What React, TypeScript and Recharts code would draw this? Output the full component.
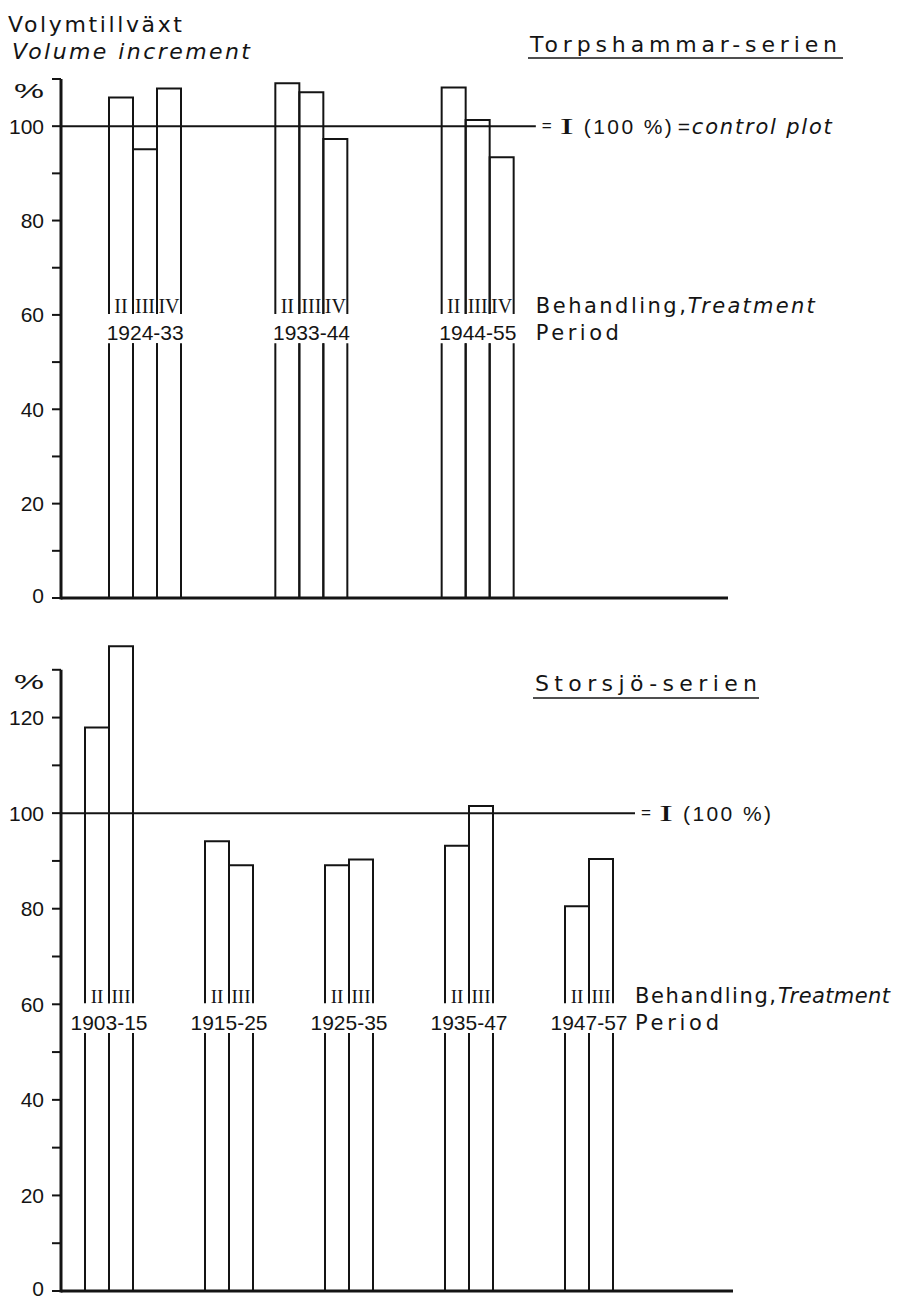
import React from 'react';
import { BarChart, Bar, XAxis, YAxis, ReferenceLine, ReferenceDot } from 'recharts';

const FONT = '"Liberation Sans", Arial, sans-serif';
const WORD_FONT = '"DejaVu Sans", "Liberation Sans", sans-serif';
const SERIF = '"Liberation Serif", "Times New Roman", serif';
const INK = '#141414';

// Torpshammar-serien (treatments II-IV, % of control plot I)
const torpPeriods = ['1924-33', '1933-44', '1944-55'];
const torpTreatments = ['II', 'III', 'IV'];
const torpII = [106.1, 109.1, 108.2];
const torpIII = [95.1, 107.2, 101.3];
const torpIV = [108.0, 97.3, 93.4];
const torpTicks = [0, 10, 20, 30, 40, 50, 60, 70, 80, 90, 100, 110];

// Storsjö-serien (treatments II-III)
const storPeriods = ['1903-15', '1915-25', '1925-35', '1935-47', '1947-57'];
const storTreatments = ['II', 'III'];
const storII = [117.9, 94.1, 89.1, 93.2, 80.5];
const storIII = [134.9, 89.1, 90.3, 101.5, 90.4];
const storTicks = [0, 10, 20, 30, 40, 50, 60, 70, 80, 90, 100, 110, 120, 130];

const BAR = 24;
// the bar outlines break where the period label sits
const GAP_TOP = 60.2;
const GAP_BOTTOM = 54;
const NUMERAL_VALUE = 60.3;
const PERIOD_VALUE = 54.6;

type Margin = { top: number; right: number; bottom: number; left: number };

interface PanelProps {
  periods: string[];
  treatments: string[];
  series: number[][];
  ticks: number[];
  domainMax: number;
  width: number;
  height: number;
  margin: Margin;
  yWidth: number;
  xHeight: number;
  padding: { left: number; right: number };
  numeralSize: number;
  controlPlot: boolean;
  text: { behandling: number; treatment: number; period: number };
}

const makeBarShape = (key: string, numeralSize: number) => (props: any) => {
  const { x, y, width, height, payload } = props;
  const v = Number(payload?.[key]);
  if (!v || !height) return <g />;
  const base = y + height;
  const ppu = height / v;
  const at = (val: number) => base - val * ppu;
  const gTop = at(GAP_TOP);
  const gBot = at(GAP_BOTTOM);
  const d = `M${x},${gTop} V${y} H${x + width} V${gTop} M${x},${gBot} V${base} M${x + width},${gBot} V${base}`;
  return (
    <g>
      <path d={d} fill="none" stroke={INK} strokeWidth={2} />
      <text
        x={x + width / 2}
        y={at(NUMERAL_VALUE)}
        textAnchor="middle"
        fontFamily={SERIF}
        fontSize={numeralSize}
        fill={INK}
      >
        {key}
      </text>
    </g>
  );
};

function Panel(p: PanelProps) {
  const plotLeft = p.margin.left + p.yWidth;
  const plotH = p.height - p.margin.top - p.margin.bottom - p.xHeight;
  const ppu = plotH / p.domainMax;
  const topTick = p.ticks[p.ticks.length - 1];
  const half = (p.treatments.length * BAR) / 2;
  const first = p.periods[0];
  const last = p.periods[p.periods.length - 1];

  const data = p.periods.map((period, i) => {
    const row: Record<string, string | number> = { period };
    p.treatments.forEach((t, j) => {
      row[t] = p.series[j][i];
    });
    return row;
  });

  const yTick = (props: any) => {
    const { y, payload } = props;
    const v = payload.value as number;
    const label = v === topTick ? '%' : v % 20 === 0 ? String(v) : null;
    return (
      <g>
        {v === 0 && (
          <line x1={plotLeft} x2={plotLeft} y1={y + 1.5} y2={y - topTick * ppu} stroke={INK} strokeWidth={3} />
        )}
        <line x1={plotLeft - 9} x2={plotLeft} y1={y} y2={y} stroke={INK} strokeWidth={2} />
        {label === '%' && (
          <text x={plotLeft - 17} y={y + 19} textAnchor="end" fontFamily={FONT} fontSize={20} fill={INK}
            textLength={30} lengthAdjust="spacingAndGlyphs">%</text>
        )}
        {label && label !== '%' && (
          <text x={plotLeft - 17} y={y + (v === 0 ? 5 : 7.5)} textAnchor="end" fontFamily={FONT} fontSize={21} fill={INK}>
            {label}
          </text>
        )}
      </g>
    );
  };

  const controlShape = (props: any) => {
    const { y1, x2 } = props;
    const xe = x2 + half + 22;
    const base = y1 + 8;
    return (
      <g>
        <line x1={plotLeft} x2={xe} y1={y1} y2={y1} stroke={INK} strokeWidth={2} />
        <text x={xe + 6} y={y1 + 5} fontFamily={FONT} fontSize={15} fill={INK} textLength={10} lengthAdjust="spacingAndGlyphs">=</text>
        <text x={xe + 24} y={base} fontFamily={SERIF} fontSize={24} fill={INK} textLength={14} lengthAdjust="spacingAndGlyphs">I</text>
        <text x={xe + 48} y={base} fontFamily={FONT} fontSize={21} fill={INK} textLength={88} lengthAdjust="spacing">(100 %)</text>
        {p.controlPlot && (
          <>
            <text x={xe + 142} y={base} fontFamily={FONT} fontSize={21} fill={INK}>=</text>
            <text x={xe + 156} y={base} fontFamily={WORD_FONT} fontStyle="italic" fontSize={21} fill={INK}
              textLength={140} lengthAdjust="spacing">control plot</text>
          </>
        )}
      </g>
    );
  };

  return (
    <BarChart width={p.width} height={p.height} data={data} margin={p.margin} barGap={0}>
      <XAxis
        dataKey="period"
        tick={false}
        tickLine={false}
        height={p.xHeight}
        padding={p.padding}
        axisLine={{ stroke: INK, strokeWidth: 3 }}
      />
      <YAxis
        type="number"
        domain={[0, p.domainMax]}
        ticks={p.ticks}
        interval={0}
        width={p.yWidth}
        axisLine={false}
        tickLine={false}
        tick={yTick}
      />
      <ReferenceLine
        segment={[{ x: first, y: 100 }, { x: last, y: 100 }]}
        shape={controlShape}
      />
      {p.treatments.map((t) => (
        <Bar
          key={t}
          dataKey={t}
          barSize={BAR}
          fill="none"
          isAnimationActive={false}
          shape={makeBarShape(t, p.numeralSize)}
        />
      ))}
      {p.periods.map((period) => (
        <ReferenceDot
          key={period}
          x={period}
          y={PERIOD_VALUE}
          r={0}
          fill="none"
          stroke="none"
          label={{
            content: (lp: any) => {
              const vb = lp.viewBox || {};
              return (
                <text x={vb.x} y={vb.y} textAnchor="middle" fontFamily={FONT} fontSize={21} fill={INK}>
                  {period}
                </text>
              );
            },
          }}
        />
      ))}
      <ReferenceDot
        x={last}
        y={NUMERAL_VALUE}
        r={0}
        fill="none"
        stroke="none"
        label={{
          content: (lp: any) => {
            const vb = lp.viewBox || {};
            const x0 = vb.x + half + 22;
            return (
              <g>
                <text x={x0} y={vb.y} fontFamily={WORD_FONT} fontSize={21} fill={INK}
                  textLength={p.text.behandling} lengthAdjust="spacing">Behandling,</text>
                <text x={x0 + p.text.behandling + 2} y={vb.y} fontFamily={WORD_FONT} fontStyle="italic" fontSize={21} fill={INK}
                  textLength={p.text.treatment} lengthAdjust="spacing">Treatment</text>
              </g>
            );
          },
        }}
      />
      <ReferenceDot
        x={last}
        y={PERIOD_VALUE}
        r={0}
        fill="none"
        stroke="none"
        label={{
          content: (lp: any) => {
            const vb = lp.viewBox || {};
            return (
              <text x={vb.x + half + 22} y={vb.y} fontFamily={WORD_FONT} fontSize={21} fill={INK}
                textLength={p.text.period} lengthAdjust="spacing">Period</text>
            );
          },
        }}
      />
    </BarChart>
  );
}

export default function App() {
  return (
    <div style={{ position: 'absolute', left: 0, top: 0, width: 900, height: 1300, background: '#fff' }}>
      <div style={{ position: 'absolute', left: 0, top: 0 }}>
        <Panel
          periods={torpPeriods}
          treatments={torpTreatments}
          series={[torpII, torpIII, torpIV]}
          ticks={torpTicks}
          domainMax={110}
          width={900}
          height={620}
          margin={{ top: 79, right: 172, bottom: 2, left: 0 }}
          yWidth={61}
          xHeight={20}
          padding={{ left: 1, right: 167 }}
          numeralSize={20}
          controlPlot
          text={{ behandling: 150, treatment: 127, period: 83 }}
        />
      </div>
      <div style={{ position: 'absolute', left: 0, top: 600 }}>
        <Panel
          periods={storPeriods}
          treatments={storTreatments}
          series={[storII, storIII]}
          ticks={storTicks}
          domainMax={140}
          width={900}
          height={700}
          margin={{ top: 22, right: 167, bottom: 1, left: 0 }}
          yWidth={61}
          xHeight={8}
          padding={{ left: -12, right: 84 }}
          numeralSize={19}
          controlPlot={false}
          text={{ behandling: 141, treatment: 112, period: 84 }}
        />
      </div>
      <svg width={900} height={1300} style={{ position: 'absolute', left: 0, top: 0, pointerEvents: 'none' }}>
        <text x={8} y={32} fontFamily={WORD_FONT} fontSize={22} fill={INK} textLength={174} lengthAdjust="spacing">
          Volymtillväxt
        </text>
        <text x={12} y={59} fontFamily={WORD_FONT} fontStyle="italic" fontSize={22} fill={INK} textLength={238} lengthAdjust="spacing">
          Volume increment
        </text>
        <text x={530} y={52} fontFamily={WORD_FONT} fontSize={22} fill={INK} textLength={307} lengthAdjust="spacing">
          Torpshammar-serien
        </text>
        <line x1={528} x2={843} y1={58} y2={58} stroke={INK} strokeWidth={1.5} />
        <text x={535} y={691} fontFamily={WORD_FONT} fontSize={22} fill={INK} textLength={222} lengthAdjust="spacing">
          Storsjö-serien
        </text>
        <line x1={533} x2={759} y1={698} y2={698} stroke={INK} strokeWidth={1.5} />
      </svg>
    </div>
  );
}
